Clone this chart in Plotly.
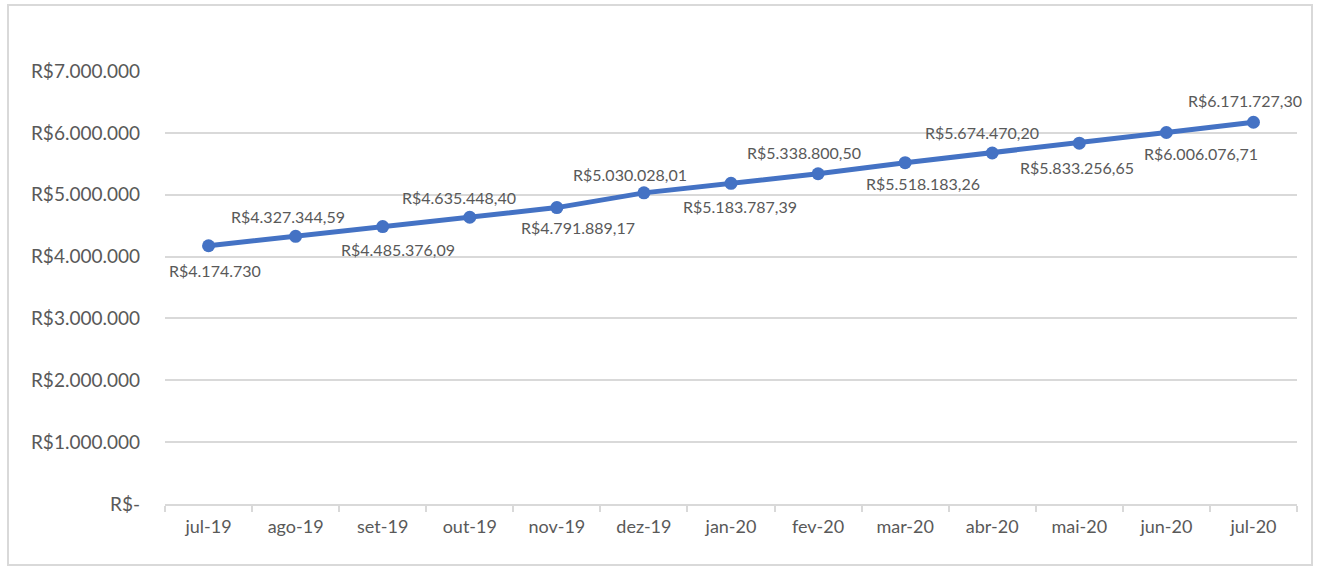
import plotly.graph_objects as go

months = ["jul-19", "ago-19", "set-19", "out-19", "nov-19", "dez-19", "jan-20",
          "fev-20", "mar-20", "abr-20", "mai-20", "jun-20", "jul-20"]
values = [4174730.00, 4327344.59, 4485376.09, 4635448.40, 4791889.17, 5030028.01,
          5183787.39, 5338800.50, 5518183.26, 5674470.20, 5833256.65, 6006076.71,
          6171727.30]
value_labels = ["R$4.174.730", "R$4.327.344,59", "R$4.485.376,09", "R$4.635.448,40",
                "R$4.791.889,17", "R$5.030.028,01", "R$5.183.787,39", "R$5.338.800,50",
                "R$5.518.183,26", "R$5.674.470,20", "R$5.833.256,65", "R$6.006.076,71",
                "R$6.171.727,30"]
y_tickvals = [0, 1e6, 2e6, 3e6, 4e6, 5e6, 6e6, 7e6]
y_ticktext = ["R$-", "R$1.000.000", "R$2.000.000", "R$3.000.000", "R$4.000.000",
              "R$5.000.000", "R$6.000.000", "R$7.000.000"]

# label offsets in pixels (dx right, dy down) relative to each point
label_offsets = [(6, 25), (-8, -20), (15, 23), (-11, -20), (21, 20), (-14, -18), (9, 23),
                 (-14, -21), (18, 21), (-10, -20), (-2, 24), (35, 21), (-8, -22)]

FONT = "Lato"
TXT = "#595959"
GRID = "#d9d9d9"
BLUE = "#4472C4"

fig = go.Figure()
fig.add_trace(go.Scatter(
    x=months, y=values, mode="lines+markers",
    line=dict(color=BLUE, width=5),
    marker=dict(color=BLUE, size=13),
    hoverinfo="skip", showlegend=False,
))

for m, v, t, (dx, dy) in zip(months, values, value_labels, label_offsets):
    fig.add_annotation(x=m, y=v, text=t, showarrow=False, xshift=dx, yshift=-dy,
                       font=dict(family=FONT, size=16, color=TXT))

# chart border
W, H = 1319, 569
L, R, T, B = 165, 22, 71, 65
pw, ph = W - L - R, H - T - B
bx0, bx1, by0, by1 = 8, 1312, 5, 565
fig.add_shape(type="rect", xref="paper", yref="paper",
              x0=(bx0 - L) / pw, x1=(bx1 - L) / pw,
              y0=(H - B - by1) / ph, y1=(H - B - by0) / ph,
              line=dict(color=GRID, width=2), fillcolor="rgba(0,0,0,0)", layer="below")

fig.update_layout(
    width=W, height=H,
    margin=dict(l=L, r=R, t=T, b=B, pad=0),
    paper_bgcolor="white", plot_bgcolor="white",
    font=dict(family=FONT, color=TXT, size=18),
    xaxis=dict(type="category", range=[-0.5, 12.5], showgrid=False,
               showline=True, linecolor=GRID, linewidth=1.5,
               ticks="outside", tickson="boundaries", ticklen=6, tickcolor=GRID, tickwidth=1.5,
               tickfont=dict(family=FONT, size=18, color=TXT), ticklabelstandoff=6),
    yaxis=dict(range=[0, 7e6], tickvals=y_tickvals, ticktext=y_ticktext,
               showgrid=True, gridcolor=GRID, gridwidth=1.5, zeroline=False,
               showline=False, ticks="",
               tickfont=dict(family=FONT, size=19, color=TXT), ticklabelstandoff=24),
)

fig.write_html("out.html", config={"displayModeBar": False},
               post_script="document.body.style.margin='0';")
